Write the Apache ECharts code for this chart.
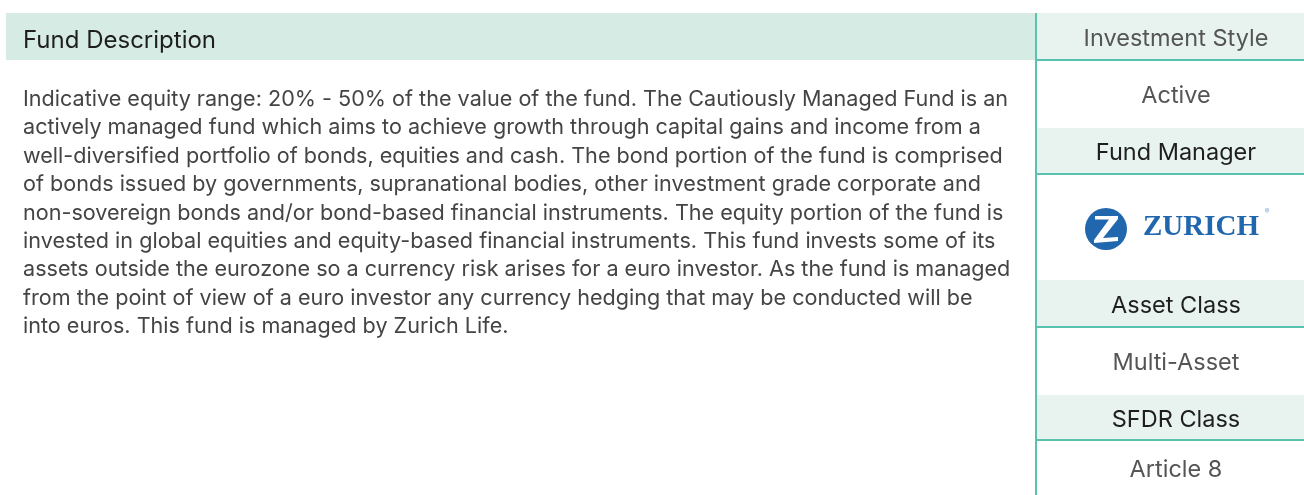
<!DOCTYPE html>
<html>
<head>
<meta charset="utf-8">
<script src="https://cdn.jsdelivr.net/npm/echarts@6/dist/echarts.min.js"></script>
<style>
  html, body { margin: 0; padding: 0; background: #fff; }
  #chart { width: 1304px; height: 495px; }
</style>
</head>
<body>
<div id="chart"></div>
<script>
// texts
const titleText = 'Fund Description'
const descriptionLines = [
  'Indicative equity range: 20% - 50% of the value of the fund. The Cautiously Managed Fund is an',
  'actively managed fund which aims to achieve growth through capital gains and income from a',
  'well-diversified portfolio of bonds, equities and cash. The bond portion of the fund is comprised',
  'of bonds issued by governments, supranational bodies, other investment grade corporate and',
  'non-sovereign bonds and/or bond-based financial instruments. The equity portion of the fund is',
  'invested in global equities and equity-based financial instruments. This fund invests some of its',
  'assets outside the eurozone so a currency risk arises for a euro investor. As the fund is managed',
  'from the point of view of a euro investor any currency hedging that may be conducted will be',
  'into euros. This fund is managed by Zurich Life.'
]
const sideHeaders = ['Investment Style', 'Fund Manager', 'Asset Class', 'SFDR Class']
const sideValues = ['Active', 'ZURICH', 'Multi-Asset', 'Article 8']

const FONT = 'Inter, Roboto, sans-serif'
const TEAL = '#58c2ae'
const BLUE = '#2167ae'

let chart = echarts.init(document.getElementById('chart'), null, { renderer: 'canvas' })

// side column rows: [headerTop, headerBottom, valueBottom]
const rows = [
  [13, 60, 128],
  [128, 174, 280],
  [280, 327, 395],
  [395, 440, 495]
]
const colX = 1037
const colCenter = 1176

let elements = []

// left header bar
elements.push({
  type: 'rect', shape: { x: 6, y: 13, width: 1030, height: 47 },
  style: { fill: '#d6ebe4' }, z: 1
})
elements.push({
  type: 'text', x: 23, y: 41, z: 5,
  style: { text: titleText, font: '24px ' + FONT, fill: '#1e1e1e', align: 'left', verticalAlign: 'middle' }
})

// description
descriptionLines.forEach(function (line, i) {
  elements.push({
    type: 'text', x: 23, y: 99.5 + i * 28.4, z: 5,
    style: { text: line, font: '21.6px ' + FONT, fill: '#444', align: 'left', verticalAlign: 'middle' }
  })
})

// side column
sideHeaders.forEach(function (h, i) {
  const r = rows[i]
  elements.push({
    type: 'rect', shape: { x: colX, y: r[0], width: 1304 - colX, height: r[1] - r[0] },
    style: { fill: '#e8f3ef' }, z: 1
  })
  elements.push({
    type: 'line', shape: { x1: colX, y1: r[1], x2: 1304, y2: r[1] },
    style: { stroke: TEAL, lineWidth: 2 }, z: 3
  })
  elements.push({
    type: 'text', x: colCenter, y: (r[0] + r[1]) / 2 + 2, z: 5,
    style: { text: h, font: '23.5px ' + FONT, fill: i === 0 ? '#555' : '#1e1e1e', align: 'center', verticalAlign: 'middle' }
  })
  const v = sideValues[i]
  if (v === 'ZURICH') {
    const cx = 1106, cy = 229
    elements.push({ type: 'circle', shape: { cx: cx, cy: cy, r: 21 }, style: { fill: BLUE }, z: 4 })
    elements.push({
      type: 'polygon', z: 5,
      shape: { points: [
        [cx - 11, cy - 13], [cx + 12, cy - 13], [cx + 12, cy - 10], [cx - 3, cy + 9],
        [cx + 12, cy + 8], [cx + 12, cy + 12], [cx - 12, cy + 14], [cx - 12, cy + 11],
        [cx + 3, cy - 9.5], [cx - 11, cy - 9.5]
      ] },
      style: { fill: '#fff' }
    })
    elements.push({
      type: 'text', x: 1143, y: 228, z: 5,
      style: { text: v, font: 'bold 29px "Liberation Serif", serif', fill: BLUE, align: 'left', verticalAlign: 'middle' }
    })
    elements.push({
      type: 'text', x: 1267, y: 212, z: 5,
      style: { text: '\u00ae', font: '7px ' + FONT, fill: '#7fa8d4', align: 'center', verticalAlign: 'middle' }
    })
  } else {
    elements.push({
      type: 'text', x: colCenter, y: (r[1] + r[2]) / 2 + 2, z: 5,
      style: { text: v, font: '23.5px ' + FONT, fill: '#555', align: 'center', verticalAlign: 'middle' }
    })
  }
})

// vertical divider
elements.push({
  type: 'line', shape: { x1: 1036, y1: 13, x2: 1036, y2: 495 },
  style: { stroke: TEAL, lineWidth: 2 }, z: 4
})

let option = {
  backgroundColor: '#fff',
  animation: false,
  graphic: { elements: elements }
}

chart.setOption(option)
</script>
</body>
</html>
